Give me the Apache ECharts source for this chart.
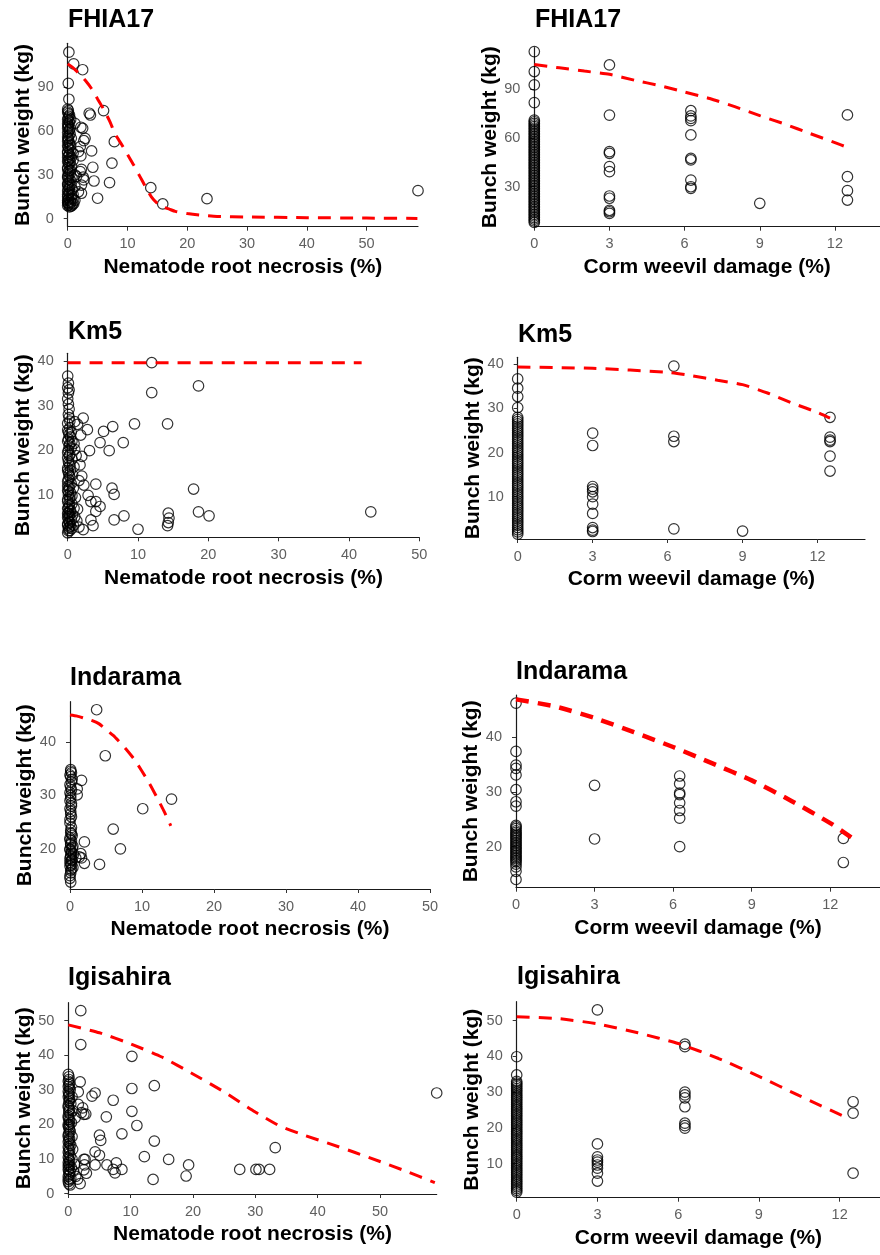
<!DOCTYPE html>
<html>
<head>
<meta charset="utf-8">
<script src="https://cdn.jsdelivr.net/npm/echarts@6/dist/echarts.min.js"></script>
<style>
html, body { margin: 0; padding: 0; background: #fff; }
#chart { width: 880px; height: 1255px; }
</style>
</head>
<body>
<div id="chart"></div>
<script>
// tick labels
const nematodeTicks = [0, 10, 20, 30, 40, 50];
const cormTicks = [0, 3, 6, 9, 12];
const fhia17YTicks = [0, 30, 60, 90];
const fhia17CormYTicks = [30, 60, 90];
const km5YTicks = [10, 20, 30, 40];
const indaramaYTicks = [20, 30, 40];
const igisahiraYTicks = [0, 10, 20, 30, 40, 50];

// FHIA17
const fhia17Nematode = [
    [0.2,114],[1.0,106],[2.5,102],[0.1,92.7],[0.2,81.8],[6.0,74],[3.6,72.2],[3.8,71],[1.2,65.3],[2.2,62.6],
    [2.5,61.9],[2.9,55],[2.7,53.4],[7.8,52.7],[2.1,49.3],[1.8,45.9],[4.0,46.4],[0.9,44.8],[2.2,43],[7.4,38],
    [4.2,35.2],[2.3,33.8],[2.1,32.2],[1.2,30],[1.5,29],[2.6,28.4],[2.7,26.5],[4.4,25.8],[7.0,24.7],[2.3,23],
    [1.2,22],[13.9,21.2],[1.8,18.4],[2.3,17.4],[0.9,16.5],[5.0,14],[0.9,13.7],[1.2,12.6],[15.9,10.1],[23.3,13.7],
    [58.6,19.2],[1.0,10.3],[0.7,9],
    [0,75],[0.1,72],[0.2,70],[0,68],[0.3,66],[0.1,64],[0,62],[0.2,60],[0.4,58],[0,56],
    [0.1,54],[0.3,52],[0,50],[0.2,48],[0.5,47],[0,45],[0.1,43],[0.3,41],[0,39],[0.2,37],
    [0.6,36],[0,34],[0.1,32],[0.4,31],[0,29],[0.2,27],[0.5,26],[0,24],[0.1,22],[0.3,21],
    [0,19],[0.2,17],[0.6,16],[0,15],[0.1,13],[0.4,12],[0,11],[0.2,9.5],[0.5,8.5],[0.8,10],
    [0.7,20],[0.9,40],[0.6,55],
    [0.1,74],[0,73],[0.3,71],[0.1,69],[0.2,67],[0,65],[0.1,63],[0.3,61],[0,59],[0.2,57],
    [0.1,55],[0,53],[0.2,51],[0.1,49],[0,46],[0.3,44],[0,42],[0.1,40],[0.2,38],[0,35],
    [0.3,33],[0.1,30],[0,28],[0.2,25],[0,23],[0.1,20],[0.3,18],[0,16.5],[0.2,14],[0,12.5],
    [0.1,10.5],[0,9],[0.3,8],[0.5,11],[0.6,14],[0.4,23],[0.7,28],[0.5,33],[0.4,39],[0.6,42],
    [0.5,50],[0.4,62],[0.5,68]
];
const fhia17NematodeFit = [
    [0,106],[1,103],[2,99],[3,94.5],[4,89],[5,82],[6,75],[7,67],[8,57.5],[9,51],[10,44],[11,37],[12,29.5],
    [13,22],[14,15],[15,10.5],[16,8],[17,6.5],[18,5],[20,3.5],[22,2.5],[25,1.5],[30,1.1],[40,0.7],[50,0.4],[58.5,0.2]
];
const fhia17Corm = [
    [0,113.2],[0,100.9],[0,92.7],[0,81.8],[0,71],[0,69],[0,67],[0,65],[0,63],[0,61],[0,59],[0,57],[0,55],[0,53],
    [0,51],[0,49],[0,47],[0,45],[0,43],[0,41],[0,39],[0,37],[0,35],[0,33],[0,31],[0,29],[0,27],[0,25],[0,23],
    [0,21],[0,19],[0,17],[0,15],[0,13],[0,11],[0,9],
    [0,70],[0,68],[0,66],[0,64],[0,62],[0,60],[0,58],[0,56],[0,54],[0,52],[0,50],[0,48],[0,46],[0,44],[0,42],
    [0,40],[0,38],[0,36],[0,34],[0,32],[0,30],[0,28],[0,26],[0,24],[0,22],[0,20],[0,18],[0,16],[0,14],[0,12],
    [0,10],[0,8],
    [3,105],[3,74.1],[3,51.6],[3,50.6],[3,42.4],[3,39.3],[3,24.3],[3,22.9],[3,15.5],[3,14.6],[3,13.6],
    [6.25,76.8],[6.25,73.6],[6.25,72.1],[6.25,70.7],[6.25,61.9],[6.25,47.5],[6.25,46.5],[6.25,34.1],[6.25,30],[6.25,29],
    [9,19.8],
    [12.5,74.2],[12.5,36.2],[12.5,27.6],[12.5,21.8]
];
const fhia17CormFit = [
    [0,105.2],[1,103.2],[2,101.2],[3,99.2],[4,95.6],[5,92.3],[6,88.3],[7,84.3],[8,79.3],[9,73.8],[10,68.6],
    [11,62.8],[12,57.2],[12.5,54.2]
];

// Km5
const km5Nematode = [
    [11.95,39.6],[11.95,32.9],[18.6,34.4],[9.5,25.9],[14.2,25.9],[6.4,25.3],[5.1,24.2],[2.2,27.2],[2.8,24.6],[1.85,23.4],
    [4.6,21.7],[7.9,21.7],[5.9,19.9],[3.1,19.9],[2.0,18.6],[1.75,16.7],[4.0,12.4],[2.3,12.2],[6.3,11.5],[6.6,10.1],
    [17.9,11.3],[2.9,9.9],[3.3,8.5],[4.0,8.5],[4.6,7.4],[4.0,6.3],[18.6,6.2],[43.1,6.2],[20.1,5.3],[8.0,5.3],
    [6.6,4.4],[14.3,5.9],[14.4,4.8],[14.3,3.8],[14.2,3.1],[10.0,2.3],[3.3,4.4],[3.6,3.1],[2.2,2.2],[1.0,5.1],
    [1.0,26.4],[1.4,25.8],[1.6,13.2],[2.0,14.2],[0.9,21.5],
    [0,36.6],[0.1,32.8],[0.1,30.3],[0.2,29.2],[0.2,27.3],[0,26],[0.3,25],[0.1,24],[0.4,23],[0,22],
    [0.2,21],[0.5,20.5],[0.1,20],[0.3,19],[0,18.3],[0.6,18],[0.2,17],[0,16],[0.4,15.5],[0.1,15],
    [0.3,14],[0,13],[0.5,12.5],[0.2,12],[0,11],[0.4,10.5],[0.1,10],[0.3,9],[0,8.5],[0.6,8],
    [0.2,7.5],[0,7],[0.4,6.5],[0.1,6],[0.3,5.5],[0,5],[0.5,4.5],[0.2,4],[0,3.5],[0.4,3],
    [0.1,2.5],[0.3,2],[0,1.5],[0.8,3.2],[0.9,7],[0.8,11.5],[1,20.2],[0.9,16.3],[1.2,18.8],[1.1,9.4],
    [1.4,6.8],[1.3,4.2],[1.6,2.8],
    [0.1,35],[0,34],[0.2,33.5],[0,31.5],[0.1,28],[0.3,26.5],[0,24.5],[0.2,23.5],[0.1,22.5],[0.3,21.5],
    [0,19.5],[0.2,18.8],[0.1,17.5],[0.3,16.5],[0,15.5],[0.2,14.5],[0.1,13.5],[0,12],[0.2,11.5],[0.1,10.8],
    [0.3,9.5],[0,9],[0.2,8],[0.1,7],[0.3,6.3],[0,5.8],[0.2,5.2],[0.1,4.5],[0.3,3.8],[0,3.2],
    [0.2,2.8],[0.1,2],[0.6,2.5],[0.7,5.5],[0.6,9.8],[0.7,14.5],[0.6,22],[0.5,24]
];
const km5NematodeFit = [[0,39.6],[41.8,39.6]];
const km5Corm = [
    [0,36.7],[0,34.6],[0,32.7],[0,30.2],[0,28],[0,27],[0,26],[0,25],[0,24],[0,23],[0,22],[0,21],[0,20],[0,19],
    [0,18],[0,17],[0,16],[0,15],[0,14],[0,13],[0,12],[0,11],[0,10],[0,9],[0,8],[0,7],[0,6],[0,5],[0,4],[0,3],
    [0,2],[0,1.5],
    [0,27.5],[0,26.5],[0,25.5],[0,24.5],[0,23.5],[0,22.5],[0,21.5],[0,20.5],[0,19.5],[0,18.5],[0,17.5],[0,16.5],
    [0,15.5],[0,14.5],[0,13.5],[0,12.5],[0,11.5],[0,10.5],[0,9.5],[0,8.5],[0,7.5],[0,6.5],[0,5.5],[0,4.5],[0,3.5],
    [0,2.5],
    [3,24.4],[3,21.6],[3,12.3],[3,11.7],[3,11.1],[3,10],[3,8.3],[3,6.2],[3,3],[3,2.4],[3,2.1],
    [6.25,39.6],[6.25,23.7],[6.25,22.5],[6.25,2.7],
    [9,2.2],
    [12.5,28],[12.5,23.5],[12.5,22.8],[12.5,22.5],[12.5,19.2],[12.5,15.8]
];
const km5CormFit = [[0,39.4],[3,39.1],[6,38.2],[7,37.4],[8,36.4],[9,35.4],[10,33.5],[11,31.2],[12,29.1],[12.5,27.8]];

// Indarama
const indaramaNematode = [
    [3.7,46.0],[4.9,37.4],[1.6,32.8],[1.0,31.2],[1.0,30.1],[14.1,29.3],[10.1,27.5],[6.0,23.7],[2.0,21.3],[7.0,20.0],
    [1.5,19.1],[1.6,18.3],[2.0,17.3],[4.1,17.1],[0.8,18.3],[1.3,18.5],
    [0.1,34.8],[0.2,34.2],[0.1,33.5],[0.3,33],[0,32],[0.2,31],[0.1,30],[0,29],[0.2,28],[0.1,27],
    [0,25.5],[0.2,24],[0.1,23.5],[0.3,22.5],[0,22],[0.2,21.5],[0.1,21],[0.4,20.5],[0,20],[0.2,19.5],
    [0.5,19],[0.1,18.5],[0.3,18],[0,17.5],[0.2,17],[0.4,16.5],[0.1,16],[0,15],[0.1,13.8],
    [0.1,34.5],[0,33.8],[0.2,32.5],[0.1,31.5],[0,30.5],[0.1,29.5],[0.2,28.5],[0,27.5],[0.1,26.5],[0.2,26],
    [0,24.8],[0.1,23],[0.2,22.8],[0,21.7],[0.1,20.8],[0.3,20.2],[0,19.8],[0.2,19.2],[0.1,18.8],[0,18.2],
    [0.2,17.8],[0.1,17.2],[0,16.8],[0.2,16.2],[0.1,15.5],[0,14.5]
];
const indaramaNematodeFit = [
    [0,45],[1,44.8],[2,44.4],[3,44],[4,43.4],[5,42.3],[6,41.2],[7,39.8],[8,38.3],[9,36.6],[10,34.5],[11,32.3],
    [12,29.8],[13,27.2],[14,24.3]
];
const indaramaCorm = [
    [0,46.2],[0,37.4],[0,34.9],[0,34.3],[0,33.1],[0,30.4],[0,28.2],[0,27.4],[0,23.9],[0,23.3],[0,22.6],[0,22],
    [0,21.4],[0,20.8],[0,20.2],[0,19.6],[0,19],[0,18.4],[0,17.8],[0,17.2],[0,16.3],[0,14],
    [0,23.6],[0,22.9],[0,22.3],[0,21.7],[0,21.1],[0,20.5],[0,19.9],[0,19.3],[0,18.7],[0,18.1],[0,17.5],[0,16.8],
    [0,15.5],
    [3,31.2],[3,21.4],
    [6.25,32.9],[6.25,31.5],[6.25,29.8],[6.25,29.5],[6.25,28],[6.25,26.6],[6.25,25.2],[6.25,20],
    [12.5,21.5],[12.5,17.1]
];
const indaramaCormFit = [[0,46.9],[1.5,45.6],[3,43.5],[4.5,40.9],[6,38.2],[7.5,35.2],[9,32.1],[10.5,28.4],[12,24.3],[12.8,21.7]];

// Igisahira
const igisahiraNematode = [
    [2.0,52.9],[2.0,43.1],[10.2,39.7],[1.9,32.3],[1.6,29.4],[13.8,31.2],[10.2,30.4],[4.3,29.1],[3.8,28.2],[7.2,27.0],
    [59.1,29.1],[1.6,25.8],[2.1,23.4],[2.5,22.9],[2.8,23.0],[10.2,23.8],[6.1,22.2],[11.0,19.7],[8.6,17.3],[5.0,16.9],
    [5.2,15.4],[13.8,15.2],[4.3,12.1],[5.0,11.1],[12.2,10.7],[16.1,9.9],[33.2,13.3],[19.3,8.3],[4.3,8.3],[6.2,8.3],
    [7.7,8.9],[8.6,7.0],[7.2,7.0],[7.5,6.0],[27.5,7.0],[30.1,7.0],[30.6,7.0],[32.3,7.0],[18.9,5.1],[13.6,4.1],
    [2.5,9.9],[2.6,8.3],[2.5,6.9],[2.9,5.9],[1.9,2.9],[2.3,24.8],[1.1,21.9],[2.7,9.9],[1.0,8.5],[1.2,5],
    [1.5,4.2],[0.8,6.5],
    [0,34.5],[0.1,33],[0.2,32],[0,31],[0.3,30],[0.1,29],[0,28],[0.2,27],[0.4,26],[0,25],
    [0.1,24],[0.3,23],[0,22],[0.2,21],[0.5,20.5],[0,20],[0.1,19],[0.3,18],[0,17],[0.2,16],
    [0,15],[0.4,14],[0.1,13],[0,12],[0.3,11],[0.1,10],[0,9],[0.2,8],[0.5,7.5],[0,7],
    [0.3,6.5],[0.1,6],[0,5],[0.4,4.5],[0.2,4],[0,3.5],[0.1,2.8],[0.3,2.5],
    [0.1,33.8],[0,32.5],[0.1,31.5],[0.2,30.5],[0,29.5],[0.1,28.5],[0.2,27.5],[0.1,26.5],[0,25.5],[0.2,24.5],
    [0.1,23.5],[0,22.5],[0.1,21.5],[0.2,20],[0,19.5],[0.2,18.5],[0.1,17.5],[0,16.5],[0.1,15.5],[0.2,14.5],
    [0,13.5],[0.2,12.5],[0.1,11.5],[0,10.5],[0.2,9.5],[0.1,8.5],[0,8],[0.1,7],[0.2,5.5],[0,4.2],
    [0.6,10],[0.7,12.8],[0.6,16.5],[0.7,24],[0.6,28]
];
const igisahiraNematodeFit = [
    [0,48.8],[5,46.5],[10,43.3],[15,39.5],[20,34.6],[25,29.4],[30,23.6],[34,19.5],[38,16.8],[42,14.4],[46,11.9],
    [50,9.3],[54,6.6],[58.8,3.2]
];
const igisahiraCorm = [
    [0,39.9],[0,34.8],[0,33],[0,32],[0,31],[0,30],[0,29],[0,28],[0,27],[0,26],[0,25],[0,24],[0,23],[0,22],
    [0,21],[0,20],[0,19],[0,18],[0,17],[0,16],[0,15],[0,14],[0,13],[0,12],[0,11],[0,10],[0,9],[0,8],[0,7],
    [0,6],[0,5],[0,4],[0,3],[0,2],
    [0,32.5],[0,31.5],[0,30.5],[0,29.5],[0,28.5],[0,27.5],[0,26.5],[0,25.5],[0,24.5],[0,23.5],[0,22.5],[0,21.5],
    [0,20.5],[0,19.5],[0,18.5],[0,17.5],[0,16.5],[0,15.5],[0,14.5],[0,13.5],[0,12.5],[0,11.5],[0,10.5],[0,9.5],
    [0,8.5],[0,7.5],[0,6.5],[0,5.5],[0,4.5],[0,3.5],[0,2.5],
    [3,53],[3,15.5],[3,11.9],[3,11],[3,10.4],[3,9.6],[3,8.7],[3,7.3],[3,5.1],
    [6.25,43.4],[6.25,42.7],[6.25,30],[6.25,29.2],[6.25,28.4],[6.25,25.9],[6.25,21.3],[6.25,20.6],[6.25,19.9],
    [12.5,27.3],[12.5,24.1],[12.5,7.3]
];
const igisahiraCormFit = [[0,51.1],[1.5,50.6],[3,49.1],[4.5,46.6],[6,43.6],[7.5,39.4],[9,34.4],[10.5,29],[12.3,22.7]];

var chart = echarts.init(document.getElementById('chart'), null, { renderer: 'canvas' });
var font = "'Liberation Sans', Arial, sans-serif";
var nemName = 'Nematode root necrosis (%)';
var cormName = 'Corm weevil damage (%)';

// grid: [left, top, width, height]
var panels = [
    { title: 'FHIA17', t: [68, 8], pts: fhia17Nematode, fit: fhia17NematodeFit, xName: nemName, xTicks: nematodeTicks, xMax: 58.6, yTicks: fhia17YTicks, yMin: -5.5, yMax: 120.1, grid: [67.7, 43.3, 350.3, 183.4], lw: 3 },
    { title: 'FHIA17', t: [535, 8], pts: fhia17Corm, fit: fhia17CormFit, xName: cormName, xTicks: cormTicks, xMax: 13.8, yTicks: fhia17CormYTicks, yMin: 5.4, yMax: 115.6, grid: [534.3, 47.7, 345.7, 179], lw: 3 },
    { title: 'Km5', t: [68, 320], pts: km5Nematode, fit: km5NematodeFit, xName: nemName, xTicks: nematodeTicks, xMax: 50, yTicks: km5YTicks, yMin: 0.5, yMax: 41.7, grid: [67.7, 353.3, 351.6, 184], lw: 3 },
    { title: 'Km5', t: [518, 323], pts: km5Corm, fit: km5CormFit, xName: cormName, xTicks: cormTicks, xMax: 13.9, yTicks: km5YTicks, yMin: 0.4, yMax: 41.6, grid: [517.7, 357.3, 347.3, 181.7], lw: 3 },
    { title: 'Indarama', t: [70, 666], pts: indaramaNematode, fit: indaramaNematodeFit, xName: nemName, xTicks: nematodeTicks, xMax: 50, yTicks: indaramaYTicks, yMin: 12.5, yMax: 47.5, grid: [70, 701.7, 360, 187.3], lw: 3 },
    { title: 'Indarama', t: [516, 660], pts: indaramaCorm, fit: indaramaCormFit, xName: cormName, xTicks: cormTicks, xMax: 13.9, yTicks: indaramaYTicks, yMin: 12.5, yMax: 47.7, grid: [516, 695, 364, 192.7], lw: 4.5 },
    { title: 'Igisahira', t: [68, 966], pts: igisahiraNematode, fit: igisahiraNematodeFit, xName: nemName, xTicks: nematodeTicks, xMax: 59.1, yTicks: igisahiraYTicks, yMin: -0.1, yMax: 55.2, grid: [68.3, 1002.7, 368.4, 191.3], lw: 3 },
    { title: 'Igisahira', t: [517, 965], pts: igisahiraCorm, fit: igisahiraCormFit, xName: cormName, xTicks: cormTicks, xMax: 13.5, yTicks: igisahiraYTicks, yMin: 0.45, yMax: 55.3, grid: [516.7, 1001.7, 363.3, 196], lw: 3 }
];

var option = {
    backgroundColor: '#fff',
    animation: false,
    title: [], grid: [], xAxis: [], yAxis: [], series: []
};

var axisCommon = {
    axisLine: { show: true, onZero: false, lineStyle: { color: '#1a1a1a', width: 1.2 } },
    splitLine: { show: false },
    nameLocation: 'middle',
    nameTextStyle: { fontFamily: font, fontSize: 21, fontWeight: 'bold', color: '#000' }
};

panels.forEach((p, i) => {
    option.title.push({
        text: p.title, left: p.t[0], top: p.t[1], padding: 0,
        textStyle: { fontFamily: font, fontSize: 25, fontWeight: 'bold', color: '#000' }
    });
    option.grid.push({ left: p.grid[0], top: p.grid[1], width: p.grid[2], height: p.grid[3] });
    option.xAxis.push(Object.assign({}, axisCommon, {
        type: 'value', gridIndex: i, min: 0, max: p.xMax,
        name: p.xName, nameGap: 30,
        axisTick: { show: true, length: 4, lineStyle: { color: '#333' }, customValues: p.xTicks },
        axisLabel: { fontFamily: font, fontSize: 14.5, color: '#5f5f5f', margin: 10, customValues: p.xTicks }
    }));
    option.yAxis.push(Object.assign({}, axisCommon, {
        type: 'value', gridIndex: i, min: p.yMin, max: p.yMax,
        name: 'Bunch weight (kg)', nameGap: 31,
        axisTick: { show: true, length: 4, lineStyle: { color: '#333' }, customValues: p.yTicks },
        axisLabel: { fontFamily: font, fontSize: 14.5, color: '#5f5f5f', margin: 14, customValues: p.yTicks }
    }));
    option.series.push({
        type: 'scatter', xAxisIndex: i, yAxisIndex: i, data: p.pts,
        symbol: 'circle', symbolSize: 10.5, clip: false,
        itemStyle: { color: 'rgba(0,0,0,0)', borderColor: '#000', borderWidth: 1.2 },
        emphasis: { disabled: true }, z: 2
    });
    option.series.push({
        type: 'line', xAxisIndex: i, yAxisIndex: i, data: p.fit,
        showSymbol: false, smooth: 0.2,
        lineStyle: { color: '#ff0000', width: p.lw, type: [13, 9] },
        emphasis: { disabled: true }, z: 3
    });
});

chart.setOption(option);
window.addEventListener('resize', chart.resize);
</script>
</body>
</html>
